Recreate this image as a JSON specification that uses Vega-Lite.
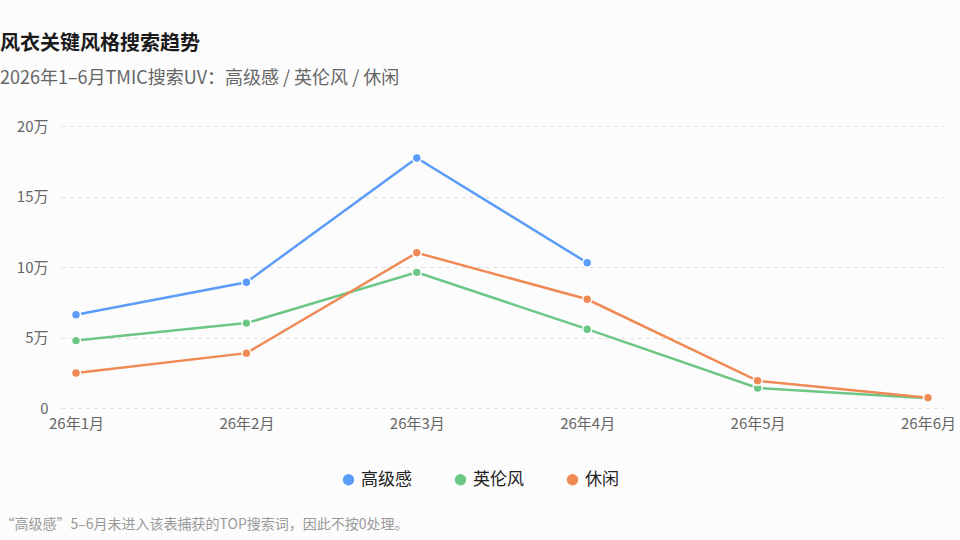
{
  "$schema": "https://vega.github.io/schema/vega-lite/v6.json",
  "autosize": {"type": "none"},
  "width": 882,
  "height": 282,
  "padding": {"left": 61, "top": 126, "right": 17, "bottom": 132},
  "background": "#fcfcfc",
  "config": {
    "font": "Noto Sans CJK SC",
    "view": {"stroke": null}
  },
  "title": {
    "text": "风衣关键风格搜索趋势",
    "subtitle": "2026年1–6月TMIC搜索UV：高级感 / 英伦风 / 休闲",
    "anchor": "start",
    "frame": "group",
    "dx": -61,
    "offset": 31,
    "fontSize": 20,
    "fontWeight": "bold",
    "color": "#1a1a1a",
    "subtitleFontSize": 18,
    "subtitleColor": "#666666",
    "subtitlePadding": 16
  },
  "data": {
    "values": [
      {"month": "26年1月", "style": "英伦风", "uv": 47800},
      {"month": "26年2月", "style": "英伦风", "uv": 60200},
      {"month": "26年3月", "style": "英伦风", "uv": 96200},
      {"month": "26年4月", "style": "英伦风", "uv": 55900},
      {"month": "26年5月", "style": "英伦风", "uv": 14200},
      {"month": "26年6月", "style": "英伦风", "uv": 7000},
      {"month": "26年1月", "style": "休闲", "uv": 24800},
      {"month": "26年2月", "style": "休闲", "uv": 38900},
      {"month": "26年3月", "style": "休闲", "uv": 110100},
      {"month": "26年4月", "style": "休闲", "uv": 77100},
      {"month": "26年5月", "style": "休闲", "uv": 19300},
      {"month": "26年6月", "style": "休闲", "uv": 7300},
      {"month": "26年1月", "style": "高级感", "uv": 66200},
      {"month": "26年2月", "style": "高级感", "uv": 89200},
      {"month": "26年3月", "style": "高级感", "uv": 177300},
      {"month": "26年4月", "style": "高级感", "uv": 103000}
    ]
  },
  "encoding": {
    "x": {
      "field": "month",
      "type": "ordinal",
      "sort": ["26年1月", "26年2月", "26年3月", "26年4月", "26年5月", "26年6月"],
      "scale": {"type": "point", "padding": 0.088},
      "axis": {
        "title": "“高级感”5–6月未进入该表捕获的TOP搜索词，因此不按0处理。",
        "titleX": -61,
        "titleY": 116,
        "titleAlign": "left",
        "titleAnchor": "start",
        "titleBaseline": "middle",
        "titleFontSize": 14,
        "titleFontWeight": "normal",
        "titleColor": "#999999",
        "labelAngle": 0,
        "labelFontSize": 15,
        "labelColor": "#666666",
        "labelPadding": 8,
        "domain": false,
        "ticks": false,
        "grid": false
      }
    },
    "y": {
      "field": "uv",
      "type": "quantitative",
      "scale": {"domain": [0, 200000]},
      "axis": {
        "title": null,
        "values": [0, 50000, 100000, 150000, 200000],
        "labelExpr": "datum.value == 0 ? '0' : (datum.value / 10000) + '万'",
        "labelFontSize": 15,
        "labelColor": "#666666",
        "labelPadding": 13,
        "domain": false,
        "ticks": false,
        "grid": true,
        "gridColor": "#dedede",
        "gridDash": [4, 4],
        "gridWidth": 1
      }
    },
    "color": {
      "field": "style",
      "type": "nominal",
      "scale": {
        "domain": ["高级感", "英伦风", "休闲"],
        "range": ["#5b9cf8", "#6cc684", "#ef8a55"]
      },
      "legend": {
        "title": null,
        "orient": "none",
        "direction": "horizontal",
        "legendX": 279,
        "legendY": 345,
        "symbolType": "circle",
        "symbolSize": 130,
        "symbolStrokeWidth": 0,
        "labelFontSize": 17,
        "labelColor": "#222222",
        "labelOffset": 4,
        "columnPadding": 40
      }
    }
  },
  "layer": [
    {
      "mark": {"type": "line", "strokeWidth": 2.5}
    },
    {
      "mark": {"type": "point", "filled": true, "opacity": 1, "size": 80, "stroke": "#ffffff", "strokeWidth": 1.5}
    }
  ]
}
